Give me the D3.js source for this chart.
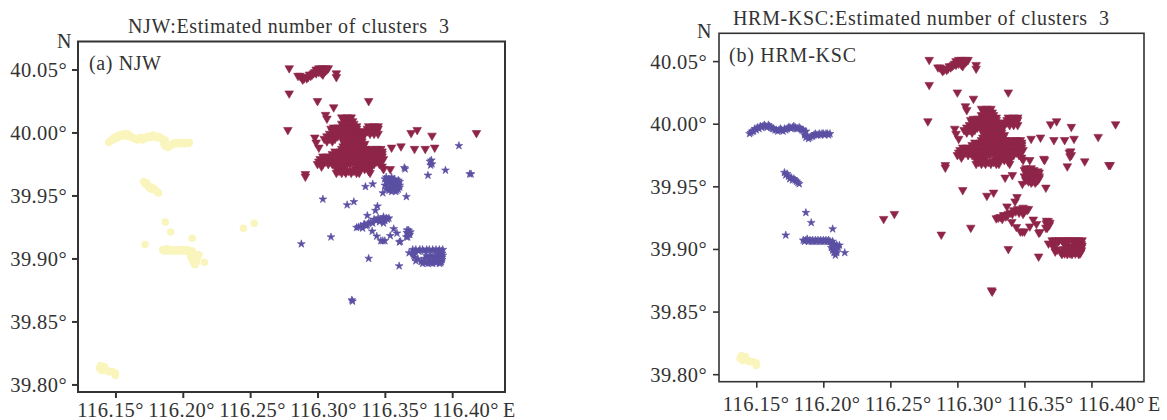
<!DOCTYPE html>
<html>
<head>
<meta charset="utf-8">
<script src="https://cdn.jsdelivr.net/npm/d3@7"></script>
<style>
  html, body { margin: 0; padding: 0; background: #fff; }
  svg { display: block; }
  text { font-family: "Liberation Serif", serif; fill: #333; }
</style>
</head>
<body>
<div id="chart"></div>
<script>
// tick values
var lonTicks = [116.15, 116.20, 116.25, 116.30, 116.35, 116.40];
var latTicks = [39.80, 39.85, 39.90, 39.95, 40.00, 40.05];

// west part of the city: yellow in (a), blue in (b)
var westLine = [[116.145,39.992],[116.147,39.994],[116.149,39.996],[116.151,39.997],[116.153,39.998],[116.155,39.998],[116.157,39.998],[116.159,39.999],[116.161,39.997],[116.163,39.996],[116.165,39.995],[116.167,39.995],[116.169,39.995],[116.171,39.996],[116.173,39.996],[116.175,39.997],[116.177,39.997],[116.179,39.997],[116.181,39.996],[116.183,39.996],[116.185,39.995],[116.187,39.994],[116.186,39.991],[116.187,39.989],[116.189,39.988],[116.191,39.990],[116.193,39.991],[116.195,39.991],[116.197,39.992],[116.199,39.992],[116.201,39.991],[116.203,39.992],[116.205,39.992]];
var westLineFill = [[116.146,39.993],[116.148,39.994],[116.150,39.995],[116.152,39.996],[116.154,39.997],[116.156,39.999],[116.158,39.997],[116.160,39.998],[116.162,39.996],[116.164,39.995],[116.166,39.994],[116.168,39.996],[116.170,39.994],[116.172,39.995],[116.174,39.997],[116.176,39.996],[116.178,39.998],[116.180,39.996],[116.182,39.997],[116.184,39.995],[116.186,39.993],[116.188,39.990],[116.190,39.989],[116.192,39.990],[116.194,39.992],[116.196,39.991],[116.198,39.991],[116.200,39.992],[116.202,39.992],[116.204,39.991]];
var midBlob = [[116.171,39.961],[116.172,39.959],[116.174,39.958],[116.176,39.957],[116.178,39.956],[116.180,39.954],[116.182,39.952],[116.173,39.960],[116.175,39.956],[116.177,39.955],[116.179,39.955],[116.181,39.953]];
var southLine = [[116.185,39.907],[116.187,39.907],[116.189,39.906],[116.191,39.906],[116.193,39.906],[116.195,39.906],[116.197,39.906],[116.199,39.906],[116.201,39.906],[116.203,39.906],[116.205,39.906],[116.207,39.906],[116.186,39.906],[116.188,39.908],[116.190,39.907],[116.192,39.907],[116.194,39.907],[116.196,39.907],[116.198,39.907],[116.200,39.907],[116.202,39.907],[116.204,39.907],[116.208,39.904],[116.210,39.903],[116.212,39.903],[116.206,39.901],[116.207,39.899],[116.209,39.900],[116.208,39.897],[116.209,39.895],[116.210,39.897],[116.211,39.901],[116.208,39.902],[116.206,39.903],[116.210,39.899]];
var southStrays = [[116.187,39.929],[116.191,39.921],[116.207,39.916],[116.172,39.911],[116.216,39.897]];

// yellow in (a), red in (b)
var farStrays = [[116.245,39.924],[116.253,39.928]];

// yellow in both panels
var swBlob = [[116.138,39.813],[116.139,39.815],[116.140,39.814],[116.141,39.812],[116.140,39.811],[116.142,39.812],[116.144,39.811],[116.146,39.810],[116.148,39.810],[116.150,39.809],[116.150,39.807],[116.139,39.812],[116.142,39.814],[116.145,39.810]];

// red in both panels
var northStreak = [[116.2855,40.045],[116.288,40.044],[116.290,40.043],[116.293,40.044],[116.295,40.045],[116.297,40.047],[116.299,40.050],[116.301,40.051],[116.303,40.051],[116.306,40.051],[116.308,40.051],[116.301,40.048],[116.304,40.046],[116.299,40.047],[116.306,40.049],[116.287,40.045],[116.289,40.042],[116.292,40.043],[116.294,40.046],[116.296,40.046],[116.298,40.048],[116.300,40.049],[116.302,40.050],[116.304,40.049],[116.305,40.050],[116.307,40.050],[116.303,40.047]];
var northStrays = [[116.279,40.051],[116.314,40.047],[116.314,40.044],[116.279,40.031],[116.300,40.025],[116.312,40.020],[116.338,40.025],[116.306,40.014],[116.307,40.011],[116.278,40.002],[116.3695,39.9996],[116.374,40.002],[116.385,39.9975],[116.418,39.9996],[116.298,39.996],[116.299,39.992],[116.301,39.988],[116.355,39.988],[116.362,39.989],[116.372,39.987],[116.380,39.987],[116.387,39.988],[116.354,39.971],[116.291,39.965],[116.291,39.967]];
var coreLat = [40.012, 40.009, 40.005, 40.003, 39.999, 39.995, 39.991, 39.987, 39.983, 39.979, 39.975, 39.971, 39.968];
var coreLon = [
  [116.318,116.322,116.325],
  [116.320,116.324,116.326],
  [116.319,116.323,116.326,116.329,116.338,116.342,116.345],
  [116.310,116.314,116.317,116.321,116.325,116.329,116.337,116.341,116.345],
  [116.309,116.313,116.316,116.320,116.324,116.328,116.331,116.335,116.339,116.342,116.345],
  [116.305,116.309,116.313,116.318,116.321,116.325,116.329,116.332],
  [116.320,116.324,116.328,116.331,116.335],
  [116.318,116.321,116.325,116.329,116.332,116.336,116.340,116.344,116.347],
  [116.311,116.315,116.319,116.323,116.326,116.330,116.334,116.338,116.341,116.345,116.348],
  [116.302,116.305,116.309,116.313,116.316,116.320,116.324,116.328,116.331,116.335,116.339,116.342,116.346,116.349],
  [116.300,116.304,116.308,116.311,116.315,116.319,116.324,116.328,116.331,116.335,116.339,116.342,116.346],
  [116.315,116.319,116.328,116.331,116.335,116.338,116.349],
  [116.314,116.318,116.321,116.325,116.329,116.331,116.339]
];
var coreFillLat = [40.0105, 40.007, 40.004, 40.001, 39.997, 39.993, 39.989, 39.985, 39.981, 39.977, 39.973, 39.9695];
var coreFillLon = [
  [116.320,116.322,116.324],
  [116.318,116.321,116.324,116.327],
  [116.312,116.315,116.319,116.323,116.327,116.339,116.343],
  [116.311,116.315,116.318,116.322,116.326,116.330,116.333,116.337,116.341,116.344],
  [116.307,116.311,116.315,116.319,116.323,116.327,116.331,116.334],
  [116.307,116.311,116.322,116.326,116.330,116.333],
  [116.319,116.323,116.327,116.331,116.334],
  [116.313,116.317,116.321,116.324,116.328,116.332,116.336,116.340,116.344,116.348],
  [116.304,116.307,116.311,116.315,116.318,116.322,116.326,116.330,116.333,116.337,116.341,116.344,116.348],
  [116.301,116.306,116.310,116.313,116.317,116.322,116.326,116.330,116.333,116.337,116.341,116.344,116.347],
  [116.303,116.313,116.317,116.321,116.329,116.333,116.337,116.340,116.348],
  [116.316,116.320,116.323,116.327,116.330,116.338]
];

// east and south-east: blue in (a), red in (b)
var eastStrays = [[116.405,39.9895],[116.3835,39.977],[116.385,39.975],[116.384,39.974],[116.3845,39.978],[116.3645,39.972],[116.3650,39.971],[116.395,39.970],[116.382,39.966],[116.413,39.967],[116.414,39.967],[116.3356,39.957],[116.341,39.959],[116.366,39.949],[116.3485,39.952],[116.304,39.947],[116.322,39.9425],[116.327,39.945],[116.3445,39.9415],[116.343,39.938],[116.337,39.934],[116.310,39.917],[116.288,39.9115],[116.338,39.900],[116.3606,39.894],[116.326,39.866],[116.3255,39.867]];
var eastBlob = [[116.350,39.963],[116.353,39.963],[116.357,39.963],[116.351,39.961],[116.355,39.961],[116.358,39.961],[116.361,39.961],[116.350,39.958],[116.355,39.958],[116.358,39.958],[116.361,39.958],[116.351,39.955],[116.354,39.955],[116.357,39.955],[116.360,39.955],[116.355,39.953],[116.358,39.953],[116.351,39.9645],[116.355,39.9645],[116.352,39.962],[116.356,39.962],[116.360,39.962],[116.353,39.9595],[116.357,39.9595],[116.360,39.9595],[116.352,39.9565],[116.356,39.9565],[116.359,39.9565],[116.361,39.9565],[116.353,39.954],[116.356,39.954],[116.359,39.954]];
var eastBand = [[116.329,39.9245],[116.332,39.9256],[116.335,39.927],[116.338,39.928],[116.341,39.928],[116.3435,39.930],[116.3465,39.931],[116.349,39.933],[116.351,39.932],[116.353,39.932],[116.349,39.928],[116.346,39.929],[116.3406,39.9216],[116.344,39.9176],[116.347,39.914],[116.350,39.914],[116.354,39.918],[116.3566,39.9235],[116.359,39.920],[116.3608,39.913],[116.3615,39.9135],[116.3305,39.925],[116.3335,39.924],[116.336,39.926],[116.3395,39.929],[116.342,39.931],[116.345,39.932],[116.348,39.931],[116.350,39.930],[116.352,39.931],[116.3345,39.927],[116.337,39.9265],[116.3485,39.914]];
var eastSmall = [[116.3677,39.9224],[116.369,39.921],[116.3663,39.9205],[116.3677,39.919],[116.367,39.917],[116.366,39.917],[116.368,39.9205],[116.3665,39.9225],[116.3685,39.919]];
var eastRing = [[116.3707,39.907],[116.373,39.907],[116.376,39.907],[116.378,39.907],[116.381,39.907],[116.383,39.907],[116.3855,39.907],[116.388,39.907],[116.3905,39.907],[116.393,39.907],[116.368,39.9044],[116.371,39.904],[116.3925,39.904],[116.3905,39.904],[116.372,39.901],[116.389,39.901],[116.3925,39.901],[116.381,39.902],[116.384,39.902],[116.387,39.902],[116.373,39.898],[116.377,39.8975],[116.379,39.8975],[116.382,39.8975],[116.384,39.8975],[116.387,39.8975],[116.389,39.8975],[116.392,39.8975],[116.378,39.896],[116.382,39.896],[116.3855,39.896],[116.3905,39.896]];
var eastRingFill = [[116.372,39.9055],[116.375,39.9058],[116.379,39.9058],[116.382,39.9058],[116.3865,39.9058],[116.3895,39.9058],[116.392,39.9058],[116.3915,39.9025],[116.393,39.9025],[116.390,39.899],[116.3925,39.899],[116.3795,39.900],[116.3825,39.900],[116.3855,39.900],[116.388,39.900],[116.3715,39.9025],[116.3745,39.8995],[116.380,39.8965],[116.384,39.8965],[116.388,39.8965],[116.3915,39.8965]];

function rows(lats, lons) {
  return lats.flatMap(function(lat, i) {
    return lons[i].map(function(lon) { return [lon, lat]; });
  });
}
var westGroup = westLine.concat(westLineFill, midBlob, southLine, southStrays);
var northGroup = northStreak.concat(northStrays, rows(coreLat, coreLon), rows(coreFillLat, coreFillLon));
var eastGroup = eastStrays.concat(eastBlob, eastBand, eastSmall, eastRing, eastRingFill);

var colors = {yellow: "#f9f5bd", blue: "#5b50a3", red: "#8e2549"};

var symbols = {
  circle: d3.symbol().type(d3.symbolCircle).size(44)(),
  star: d3.symbol().type(d3.symbolStar).size(19)(),
  tri: d3.symbol().type(d3.symbolTriangle).size(32)()
};

var panels = [
  {
    left: 78, right: 505, top: 41.5, bottom: 392,
    title: "NJW:Estimated number of clusters  3", titleX: 128, titleW: 321, titleY: 33,
    tag: "(a) NJW", tagX: 89, tagW: 72, tagY: 70,
    nX: 57, nY: 48, eX: 503, eY: 417, xLabel0: 110, xLabelStep: 71, xLabelY: 417, yLabelX: 67, axisW: 2,
    layers: [
      {pts: westGroup.concat(farStrays, swBlob), mark: "circle", color: colors.yellow},
      {pts: northGroup, mark: "tri", color: colors.red},
      {pts: eastGroup, mark: "star", color: colors.blue}
    ]
  },
  {
    left: 719, right: 1144, top: 33.3, bottom: 381.7,
    title: "HRM-KSC:Estimated number of clusters  3", titleX: 733, titleW: 376, titleY: 25,
    tag: "(b) HRM-KSC", tagX: 729, tagW: 127, tagY: 62,
    nX: 697, nY: 38, eX: 1148, eY: 411, xLabel0: 755.5, xLabelStep: 71.1, xLabelY: 411, yLabelX: 707, axisW: 1.6,
    layers: [
      {pts: swBlob, mark: "circle", color: colors.yellow},
      {pts: westGroup, mark: "star", color: colors.blue},
      {pts: northGroup.concat(eastGroup, farStrays), mark: "tri", color: colors.red}
    ]
  }
];

var svg = d3.select("#chart").append("svg")
  .attr("width", 1167)
  .attr("height", 420);

panels.forEach(function(p) {
  var x = d3.scaleLinear().domain([116.1222, 116.4392]).range([p.left, p.right]);
  var y = d3.scaleLinear().domain([39.794, 40.0722]).range([p.bottom, p.top]);
  var g = svg.append("g");

  p.layers.forEach(function(layer) {
    g.append("g").selectAll("path")
      .data(layer.pts)
      .enter().append("path")
      .attr("d", symbols[layer.mark])
      .attr("fill", layer.color)
      .attr("stroke", layer.color)
      .attr("stroke-width", layer.mark == "circle" ? 0 : 0.6)
      .attr("transform", function(d) {
        return "translate(" + x(d[0]) + "," + y(d[1]) + ")" + (layer.mark == "tri" ? " rotate(180)" : "");
      });
  });

  // frame
  g.append("rect")
    .attr("x", p.left).attr("y", p.top)
    .attr("width", p.right - p.left).attr("height", p.bottom - p.top)
    .attr("fill", "none")
    .attr("stroke", "#333")
    .attr("stroke-width", p.axisW);

  var xAxis = g.append("g")
    .attr("transform", "translate(0," + p.bottom + ")")
    .call(d3.axisBottom(x).tickValues(lonTicks).tickSize(6).tickFormat(function(d) { return d.toFixed(2) + "°"; }));
  var yAxis = g.append("g")
    .attr("transform", "translate(" + p.left + ",0)")
    .call(d3.axisLeft(y).tickValues(latTicks).tickSize(6).tickFormat(function(d) { return d.toFixed(2) + "°"; }));

  [xAxis, yAxis].forEach(function(axis) {
    axis.select(".domain").remove();
    axis.selectAll("line").attr("stroke", "#333").attr("stroke-width", p.axisW);
    axis.selectAll("text")
      .attr("font-family", null)
      .style("font-size", "20.5px")
      .style("letter-spacing", "0.4px")
      .style("fill", "#333");
  });
  // the x labels in the figure sit a little wider apart than their ticks
  xAxis.selectAll("text")
    .attr("text-anchor", "middle")
    .attr("dy", null)
    .attr("x", function(d, i) { return p.xLabel0 + i * p.xLabelStep - x(d); })
    .attr("y", p.xLabelY - p.bottom);
  yAxis.selectAll("text")
    .attr("text-anchor", "end")
    .attr("dy", null)
    .attr("x", p.yLabelX - p.left)
    .attr("y", 7);

  function label(txt, tx, ty, w) {
    var t = g.append("text")
      .attr("x", tx).attr("y", ty)
      .style("font-size", "20px")
      .style("white-space", "pre")
      .text(txt);
    if (w) t.attr("textLength", w).attr("lengthAdjust", "spacing");
  }
  label(p.title, p.titleX, p.titleY, p.titleW);
  label(p.tag, p.tagX, p.tagY, p.tagW);
  label("N", p.nX, p.nY);
  label("E", p.eX, p.eY);
});
</script>
</body>
</html>
